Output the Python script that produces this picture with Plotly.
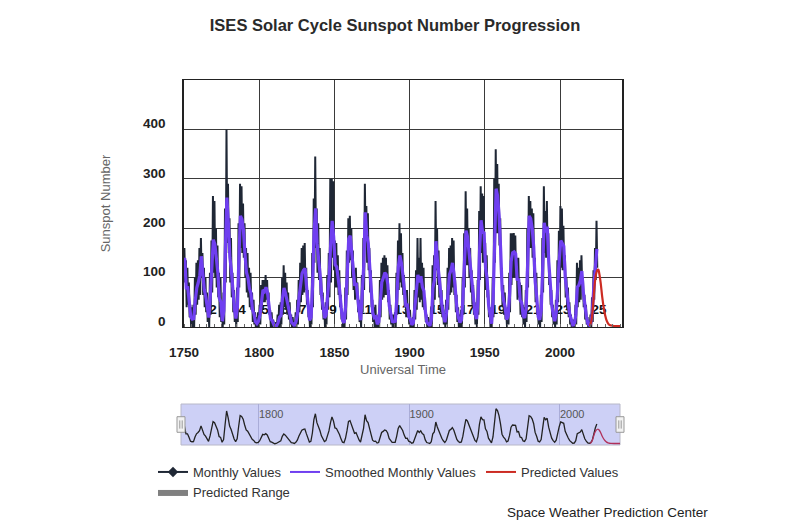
import plotly.graph_objects as go

# ---------------- data ----------------
first_year = 1749
# yearly (smoothed) sunspot number, 1749..2024
smoothed = [
    134.7, 139.0, 79.5, 79.7, 51.2, 20.3, 16.0, 17.0, 54.0, 79.3,      # 1749-1758
    90.0, 104.8, 143.2, 102.0, 75.2, 60.7, 34.8, 19.0, 63.0, 116.3,    # 1759-1768
    176.8, 168.0, 136.0, 110.8, 58.0, 51.0, 11.7, 33.0, 154.2, 262.0,  # 1769-1778
    209.8, 141.3, 113.5, 64.2, 38.0, 17.0, 40.2, 138.2, 225.0, 218.2,  # 1779-1788
    196.8, 149.8, 111.0, 100.0, 78.2, 68.3, 35.5, 26.7, 10.7, 6.8,     # 1789-1798
    11.3, 24.2, 56.7, 75.0, 71.8, 80.5, 70.3, 46.8, 16.8, 13.5,        # 1799-1808
    4.2, 0.0, 2.3, 8.3, 20.3, 23.2, 59.0, 79.0, 68.3, 52.9,            # 1809-1818
    38.5, 24.2, 9.2, 6.3, 2.2, 11.4, 28.2, 59.9, 83.0, 108.5,          # 1819-1828
    115.2, 118.5, 80.8, 44.3, 13.4, 19.5, 85.8, 192.7, 240.0, 168.7,   # 1829-1838
    143.0, 105.5, 63.3, 40.3, 18.1, 25.1, 65.8, 102.7, 166.3, 215.0,   # 1839-1848
    182.5, 126.3, 122.0, 102.7, 74.1, 39.0, 12.7, 8.2, 43.4, 104.4,    # 1849-1858
    178.3, 185.0, 146.6, 112.1, 83.5, 89.2, 57.8, 30.7, 13.9, 62.8,    # 1859-1868
    123.6, 232.0, 185.3, 169.2, 110.1, 74.5, 28.3, 18.9, 20.7, 5.7,    # 1869-1878
    10.0, 53.7, 90.5, 99.0, 110.0, 105.8, 86.3, 42.4, 21.8, 11.2,      # 1879-1888
    10.4, 11.8, 59.5, 121.7, 145.0, 130.0, 106.6, 69.4, 43.8, 44.4,    # 1889-1898
    20.2, 15.7, 4.6, 8.5, 40.8, 70.1, 105.5, 90.1, 102.8, 80.9,        # 1899-1908
    73.2, 30.9, 9.5, 6.0, 2.4, 16.1, 79.0, 95.0, 173.6, 134.6,         # 1909-1918
    105.7, 62.7, 43.5, 23.7, 9.7, 27.9, 74.0, 106.5, 114.7, 129.7,     # 1919-1928
    108.2, 59.4, 35.1, 18.6, 9.2, 14.6, 60.2, 132.8, 195.0, 182.6,     # 1929-1938
    148.0, 113.0, 79.2, 50.8, 27.1, 16.1, 55.3, 154.3, 216.0, 193.0,   # 1939-1948
    190.7, 118.9, 98.3, 45.0, 20.1, 6.6, 54.2, 200.7, 280.0, 265.0,    # 1949-1958
    225.1, 159.0, 76.4, 53.4, 39.9, 15.0, 22.0, 66.8, 132.9, 150.2,    # 1959-1968
    152.0, 148.0, 94.4, 97.6, 54.1, 49.2, 22.5, 18.4, 39.3, 131.0,     # 1969-1978
    225.0, 218.9, 198.9, 162.4, 91.0, 60.5, 20.6, 14.8, 33.9, 123.0,   # 1979-1988
    211.1, 191.8, 203.3, 133.0, 76.1, 44.9, 25.1, 11.6, 28.9, 88.3,    # 1989-1998
    136.3, 175.0, 170.4, 163.6, 99.3, 65.3, 45.8, 24.7, 12.6, 4.2,     # 1999-2008
    4.8, 24.9, 80.8, 84.5, 94.0, 113.3, 69.8, 39.8, 21.7, 7.0,         # 2009-2018
    3.6, 8.8, 29.6, 83.2, 125.5, 158.0,                                # 2019-2024
]
# highest and lowest monthly value within each year, 1749..2024
monthly_hi = [
    175, 160, 135, 120, 90, 45, 40, 45, 100, 130,
    135, 160, 180, 150, 120, 100, 70, 45, 110, 175,
    265, 255, 200, 165, 110, 100, 40, 70, 240, 400,
    290, 220, 180, 110, 75, 40, 80, 210, 290, 285,
    250, 210, 160, 150, 120, 110, 70, 55, 30, 20,
    30, 45, 85, 95, 95, 105, 95, 70, 35, 30,
    15, 0, 10, 25, 45, 50, 100, 125, 110, 90,
    70, 50, 25, 20, 10, 30, 55, 95, 130, 160,
    165, 170, 120, 75, 30, 45, 150, 260, 345, 240,
    210, 160, 100, 70, 40, 50, 105, 150, 300, 300,
    295, 175, 170, 145, 115, 65, 30, 25, 80, 155,
    220, 225, 200, 155, 115, 120, 90, 55, 30, 105,
    180, 290, 245, 230, 160, 115, 55, 40, 45, 15,
    25, 95, 130, 140, 145, 140, 125, 75, 45, 25,
    25, 30, 110, 175, 210, 190, 150, 105, 70, 75,
    40, 35, 15, 20, 75, 115, 180, 140, 180, 130,
    120, 60, 25, 20, 10, 40, 125, 145, 255, 200,
    155, 100, 75, 45, 25, 55, 120, 160, 165, 180,
    175, 95, 65, 40, 25, 35, 100, 190, 275, 240,
    200, 160, 115, 85, 50, 35, 95, 235, 285, 270,
    265, 170, 145, 75, 40, 20, 100, 300, 360, 330,
    290, 220, 120, 85, 70, 30, 40, 110, 190, 190,
    190, 185, 140, 140, 90, 85, 45, 40, 75, 200,
    265, 255, 240, 230, 140, 110, 40, 30, 65, 180,
    285, 235, 255, 190, 110, 75, 45, 25, 55, 135,
    195, 245, 240, 205, 145, 100, 80, 50, 25, 15,
    15, 45, 130, 120, 135, 145, 100, 65, 45, 20,
    10, 25, 60, 115, 160, 215,
]
monthly_lo = [
    95, 90, 40, 45, 20, 0, 0, 0, 25, 45,
    55, 65, 100, 65, 40, 30, 10, 0, 25, 70,
    110, 100, 80, 60, 20, 10, 0, 5, 90, 170,
    150, 90, 60, 30, 10, 0, 10, 80, 160, 150,
    140, 100, 70, 60, 40, 35, 10, 5, 0, 0,
    0, 5, 30, 50, 50, 55, 45, 25, 0, 0,
    0, 0, 0, 0, 0, 5, 25, 40, 35, 25,
    15, 5, 0, 0, 0, 0, 5, 30, 50, 65,
    70, 75, 45, 20, 0, 5, 40, 130, 160, 110,
    95, 65, 35, 15, 0, 5, 35, 60, 90, 140,
    115, 80, 80, 65, 40, 15, 0, 0, 15, 65,
    130, 135, 100, 75, 55, 60, 30, 10, 0, 30,
    75, 170, 130, 115, 70, 40, 10, 0, 0, 0,
    0, 20, 55, 60, 65, 65, 50, 15, 5, 0,
    0, 0, 25, 75, 90, 80, 65, 40, 20, 20,
    5, 0, 0, 0, 15, 35, 60, 50, 55, 40,
    35, 10, 0, 0, 0, 0, 40, 55, 115, 85,
    60, 30, 20, 5, 0, 5, 35, 65, 70, 80,
    65, 30, 10, 0, 0, 0, 25, 80, 125, 125,
    100, 70, 45, 25, 5, 0, 25, 95, 150, 130,
    130, 75, 60, 20, 0, 0, 20, 130, 190, 190,
    165, 105, 40, 25, 15, 0, 5, 30, 85, 100,
    100, 100, 55, 60, 25, 20, 5, 0, 10, 80,
    160, 160, 140, 100, 50, 25, 5, 0, 10, 70,
    150, 140, 140, 85, 45, 20, 5, 0, 5, 50,
    90, 120, 115, 115, 60, 35, 20, 5, 0, 0,
    0, 5, 40, 50, 55, 80, 40, 15, 5, 0,
    0, 0, 10, 55, 95, 120,
]
# NOAA/NASA panel prediction for cycle 25
pred_years = [2019.9, 2021.0, 2022.0, 2023.0, 2024.0, 2025.0, 2025.5, 2026.0, 2027.0,
              2028.0, 2029.0, 2030.0, 2031.0, 2032.0, 2033.0, 2034.0, 2036.0, 2038.0, 2040.0]
pred_values = [2, 15, 45, 85, 108, 116, 116, 110, 90, 62, 40, 24, 13, 7, 4, 3, 2, 2, 2]

cycle_labels = ["2", "4", "5", "6", "7", "9", "11", "13", "15", "17", "19", "21", "23", "25"]
cycle_label_years = [1769.3, 1788.6, 1803.9, 1817.2, 1829.0, 1849.0, 1870.3, 1895.0,
                     1918.2, 1938.2, 1958.8, 1982.0, 2002.0, 2026.0]
cycle_label_level = 34

y_ticks = [0, 100, 200, 300, 400]
x_ticks = [1750, 1800, 1850, 1900, 1950, 2000]
nav_ticks = [1800, 1900, 2000]

# ---------------- derived series ----------------
years = [first_year + i for i in range(len(smoothed))]
smooth_x = [y + 0.5 for y in years]
monthly_x, monthly_y = [], []
for y, hi, lo in zip(years, monthly_hi, monthly_lo):
    monthly_x += [y + 0.25, y + 0.75]
    monthly_y += [hi, lo]

FONT = "Arial, Liberation Sans, sans-serif"
DARK = "#1f2735"
PURPLE = "#6f3ff0"
RED = "#cc2b22"

fig = go.Figure()

# cycle numbers (drawn first so data lines cover them)
fig.add_trace(go.Scatter(x=cycle_label_years, y=[cycle_label_level] * len(cycle_labels),
                         text=cycle_labels, mode="text", showlegend=False, hoverinfo="skip",
                         textfont=dict(family=FONT, size=13.5, color="#111", weight="bold"),
                         xaxis="x", yaxis="y"))
fig.add_trace(go.Scatter(x=monthly_x, y=monthly_y, mode="lines", name="Monthly Values",
                         line=dict(color=DARK, width=2.0), showlegend=False,
                         xaxis="x", yaxis="y"))
fig.add_trace(go.Scatter(x=smooth_x, y=smoothed, mode="lines", name="Smoothed Monthly Values",
                         line=dict(color=PURPLE, width=3.2), showlegend=False,
                         xaxis="x", yaxis="y"))
fig.add_trace(go.Scatter(x=pred_years, y=pred_values, mode="lines", name="Predicted Values",
                         line=dict(color=RED, width=2.2, shape="spline"), showlegend=False,
                         xaxis="x", yaxis="y"))

# navigator
fig.add_trace(go.Scatter(x=smooth_x, y=smoothed, mode="lines", line=dict(color="#222", width=1.3),
                         showlegend=False, hoverinfo="skip", xaxis="x2", yaxis="y2"))
fig.add_trace(go.Scatter(x=pred_years, y=pred_values, mode="lines",
                         line=dict(color="#b0305a", width=1.3, shape="spline"),
                         showlegend=False, hoverinfo="skip", xaxis="x2", yaxis="y2"))

# legend entries
fig.add_trace(go.Scatter(x=[None], y=[None], mode="lines+markers", name="Monthly Values",
                         line=dict(color=DARK, width=2),
                         marker=dict(symbol="diamond", size=8, color=DARK), legend="legend"))
fig.add_trace(go.Scatter(x=[None], y=[None], mode="lines", name="Smoothed Monthly Values",
                         line=dict(color=PURPLE, width=2), legend="legend2"))
fig.add_trace(go.Scatter(x=[None], y=[None], mode="lines", name="Predicted Values",
                         line=dict(color=RED, width=2), legend="legend3"))
fig.add_trace(go.Scatter(x=[None], y=[None], mode="lines", name="Predicted Range",
                         fill="toself", fillcolor="#808080", line=dict(color="#808080", width=0),
                         legend="legend4"))

# page offset of the figure inside the html body
OFF = 8
W, H = 800, 530
L, R, T, B = 181 - OFF, W - (622 - OFF), 80 - OFF, H - (445 - OFF)
pw, ph = W - L - R, H - T - B

def legend_at(px, py):
    return dict(x=(px - OFF - 40) / W, y=1 - (py - OFF) / H, xref="container", yref="container",
                xanchor="left", yanchor="middle", orientation="h",
                font=dict(family=FONT, size=13, color="#333"),
                bgcolor="rgba(0,0,0,0)", itemwidth=30)

fig.update_layout(
    width=W, height=H,
    margin=dict(l=L, r=R, t=T, b=B, autoexpand=False),
    paper_bgcolor="white", plot_bgcolor="white",
    font=dict(family=FONT, color="#333"),
    title=dict(text="ISES Solar Cycle Sunspot Number Progression",
               font=dict(family=FONT, size=16.5, color="#2a2a2a", weight="bold"),
               x=(395 - OFF) / W, xanchor="center", xref="container",
               y=1 - (25 - OFF) / H, yanchor="middle", yref="container"),
    xaxis=dict(domain=[3 / pw, 1], range=[1750, 2041.2], anchor="y",
               tickvals=x_ticks, showgrid=True, gridcolor="#3a3a3a", gridwidth=1,
               showline=True, linecolor="#222", linewidth=1, mirror=True,
               ticks="", ticklabelstandoff=13,
               tickfont=dict(family=FONT, size=13.5, color="#222", weight="bold"),
               minor=dict(dtick=5, tick0=1750, ticks="inside", ticklen=3, tickcolor="#666",
                          showgrid=False),
               title=dict(text="Universal Time", standoff=5,
                          font=dict(family=FONT, size=13, color="#666")),
               zeroline=False),
    yaxis=dict(domain=[(H - B - (327 - OFF)) / ph, 1], range=[0, 500], anchor="x",
               tickvals=y_ticks, showgrid=True, gridcolor="#3a3a3a", gridwidth=1,
               showline=True, linecolor="#222", linewidth=1.5, mirror=True,
               ticks="", ticklabelstandoff=14, ticklabelshift=-6,
               tickfont=dict(family=FONT, size=13.5, color="#222", weight="bold"),
               title=dict(text="Sunspot Number", standoff=29,
                          font=dict(family=FONT, size=13, color="#666")),
               zeroline=False),
    xaxis2=dict(domain=[0, 439 / pw], range=[1748.2, 2039.9], anchor="y2", side="top",
                tickvals=nav_ticks, showgrid=True, gridcolor="#a9acd8", gridwidth=1,
                ticks="", ticklabelposition="inside right", showline=False,
                tickfont=dict(family=FONT, size=11, color="#555"), zeroline=False),
    yaxis2=dict(domain=[0, 41 / ph], range=[-10, 318], anchor="x2",
                showticklabels=False, showgrid=False, zeroline=False, showline=False),
    legend=legend_at(193, 472),
    legend2=legend_at(325, 472),
    legend3=legend_at(521, 472),
    legend4=legend_at(193, 492),
    showlegend=True,
    annotations=[dict(text="Space Weather Prediction Center",
                      x=(505 - OFF - L) / pw, y=(H - B - (512 - OFF)) / ph,
                      xref="paper", yref="paper", xanchor="left", yanchor="middle",
                      showarrow=False, font=dict(family=FONT, size=13.5, color="#222"))],
)

# navigator background, outline and handles
shapes = [
    dict(type="rect", xref="x2 domain", yref="y2 domain", x0=0, x1=1, y0=0, y1=1,
         fillcolor="#cdd0f6", line=dict(color="#b8b8c8", width=1), layer="below"),
]
for cx in (0.0, 1.0):
    hx = 4 / 439
    shapes.append(dict(type="rect", xref="x2 domain", yref="y2 domain",
                       x0=cx - hx, x1=cx + hx, y0=0.31, y1=0.69,
                       fillcolor="#f2f2f2", line=dict(color="#999", width=1), layer="above"))
    for dx in (-1.2 / 439, 1.2 / 439):
        shapes.append(dict(type="line", xref="x2 domain", yref="y2 domain",
                           x0=cx + dx, x1=cx + dx, y0=0.4, y1=0.6,
                           line=dict(color="#999", width=1), layer="above"))
fig.update_layout(shapes=shapes)

fig.write_html("out.html")
